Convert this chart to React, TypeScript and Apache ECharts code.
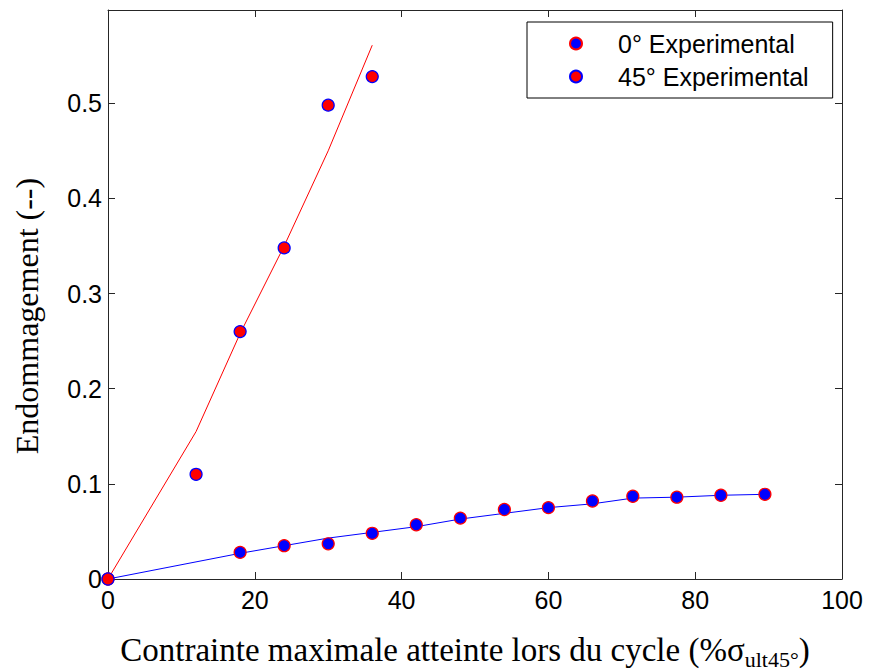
import React, { useEffect, useRef } from "react";
import * as echarts from "echarts";

// 45° experimental points (red fill, blue edge)
const exp45X = [0, 12, 18, 24, 30, 36];
const exp45Y = [0, 0.11, 0.26, 0.348, 0.498, 0.528];
// 45° model line (red)
const model45X = [0, 12, 18, 24, 30, 36];
const model45Y = [0, 0.155, 0.258, 0.35, 0.45, 0.561];
// 0° experimental points (blue fill, red edge)
const exp0X = [0, 18, 24, 30, 36, 42, 48, 54, 60, 66, 71.5, 77.5, 83.5, 89.5];
const exp0Y = [0, 0.028, 0.035, 0.037, 0.048, 0.057, 0.064, 0.073, 0.075, 0.082, 0.087, 0.086, 0.088, 0.089];
// 0° model line (blue)
const model0X = [0, 18, 24, 30, 36, 42, 48, 54, 60, 66, 71.5, 77.5, 83.5, 89.5];
const model0Y = [0, 0.027, 0.035, 0.043, 0.049, 0.055, 0.063, 0.069, 0.075, 0.079, 0.085, 0.086, 0.088, 0.089];

const seriesNames = ["0° Experimental", "45° Experimental"];
const xTitle = "Contrainte maximale atteinte lors du cycle (%σ";
const xTitleSub = "ult45°";
const yTitle = "Endommagement (--)";

const zip = (xs: number[], ys: number[]) => xs.map((x, i) => [x, ys[i]]);

export default function App() {
  const ref = useRef<HTMLDivElement>(null);
  useEffect(() => {
    if (!ref.current) return;
    const chart = echarts.init(ref.current, undefined, { renderer: "svg" });
    const axisColor = "#262626";
    const tickFont = { fontFamily: "Liberation Sans", fontSize: 25, color: "#000" };
    const lineCommon = { onZero: false, lineStyle: { color: axisColor, width: 1 } };
    const tickCommon = { show: true, inside: true, length: 7, lineStyle: { color: axisColor } };
    chart.setOption({
      animation: false,
      backgroundColor: "#fff",
      grid: { left: 108, right: 27, top: 10, bottom: 91 },
      xAxis: [
        {
          type: "value",
          min: 0,
          max: 100,
          interval: 20,
          position: "bottom",
          splitLine: { show: false },
          axisLine: lineCommon,
          axisTick: tickCommon,
          axisLabel: { ...tickFont, margin: 8 },
        },
        {
          type: "value",
          min: 0,
          max: 100,
          interval: 20,
          position: "top",
          splitLine: { show: false },
          axisLine: lineCommon,
          axisTick: tickCommon,
          axisLabel: { show: false },
        },
      ],
      yAxis: [
        {
          type: "value",
          min: 0,
          max: 0.598,
          interval: 0.1,
          position: "left",
          splitLine: { show: false },
          axisLine: { show: true, ...lineCommon },
          axisTick: tickCommon,
          axisLabel: {
            ...tickFont,
            margin: 6,
            showMaxLabel: false,
            formatter: (v: number) => (v === 0 ? "0" : String(Math.round(v * 10) / 10)),
          },
        },
        {
          type: "value",
          min: 0,
          max: 0.598,
          interval: 0.1,
          position: "right",
          splitLine: { show: false },
          axisLine: { show: true, ...lineCommon },
          axisTick: tickCommon,
          axisLabel: { show: false },
        },
      ],
      legend: {
        orient: "vertical",
        left: 527,
        top: 22,
        data: seriesNames,
        icon: "circle",
        itemWidth: 12,
        itemHeight: 12,
        itemGap: 8,
        padding: [9, 24, 9, 42],
        borderColor: "#000",
        borderWidth: 1,
        backgroundColor: "#fff",
        textStyle: {
          fontFamily: "Liberation Sans",
          fontSize: 25,
          color: "#000",
          padding: [0, 0, 0, 31],
        },
      },
      graphic: [
        {
          type: "text",
          x: 27,
          y: 316,
          rotation: Math.PI / 2,
          style: {
            text: yTitle,
            fontFamily: "Liberation Serif",
            fontSize: 32,
            fill: "#000",
            align: "center",
            verticalAlign: "middle",
          },
        },
        {
          type: "text",
          x: 465,
          y: 650,
          style: {
            text: "{m|" + xTitle + "}{s|" + xTitleSub + "}{m|)}",
            align: "center",
            verticalAlign: "middle",
            rich: {
              m: { fontFamily: "Liberation Serif", fontSize: 33, lineHeight: 40, fill: "#000" },
              s: {
                fontFamily: "Liberation Serif",
                fontSize: 22,
                lineHeight: 22,
                verticalAlign: "bottom",
                fill: "#000",
              },
            },
          },
        },
      ],
      series: [
        {
          name: "45° model",
          type: "line",
          data: zip(model45X, model45Y),
          showSymbol: false,
          lineStyle: { color: "#ff0000", width: 1 },
          z: 2,
        },
        {
          name: "0° model",
          type: "line",
          data: zip(model0X, model0Y),
          showSymbol: false,
          lineStyle: { color: "#0000ff", width: 1 },
          z: 2,
        },
        {
          name: seriesNames[0],
          type: "scatter",
          data: zip(exp0X, exp0Y),
          symbol: "circle",
          symbolSize: 12,
          itemStyle: { color: "#0000ff", borderColor: "#ff0000", borderWidth: 1.2, opacity: 1 },
          z: 3,
        },
        {
          name: seriesNames[1],
          type: "scatter",
          data: zip(exp45X, exp45Y),
          symbol: "circle",
          symbolSize: 12,
          itemStyle: { color: "#ff0000", borderColor: "#0000ff", borderWidth: 1.2, opacity: 1 },
          z: 3,
        },
      ],
    });
    return () => chart.dispose();
  }, []);
  return (
    <div
      ref={ref}
      style={{ position: "fixed", left: 0, top: 0, width: 869, height: 670, background: "#fff" }}
    />
  );
}
